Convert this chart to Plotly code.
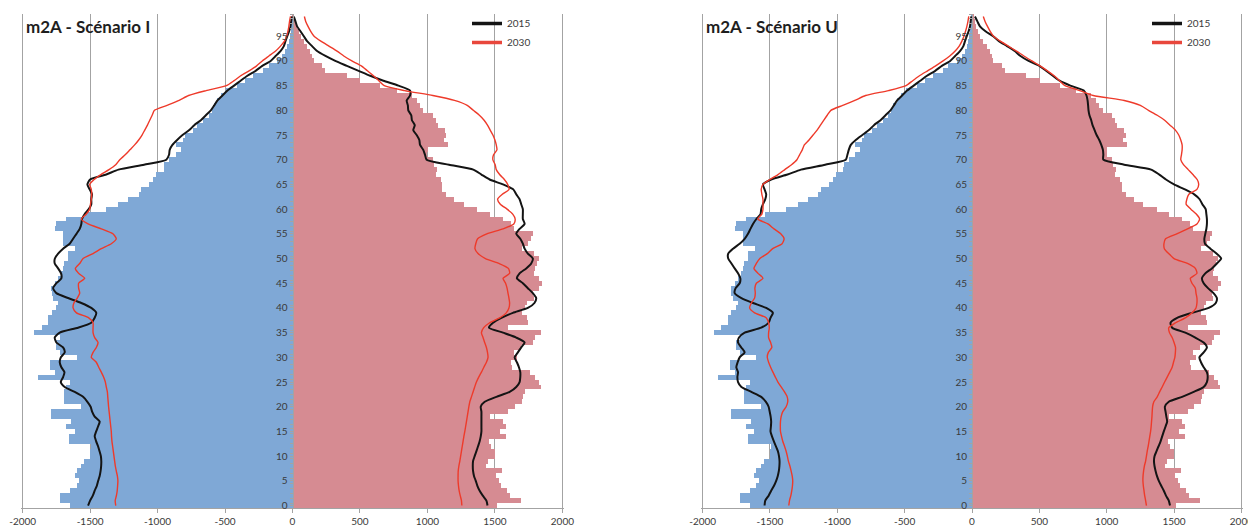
import plotly.graph_objects as go

W, H = 1248, 532

ages = list(range(100))
age_ticks = list(range(0, 100, 5))
x_ticks = [-2000, -1500, -1000, -500, 0, 500, 1000, 1500, 2000]
x_ticktext = ["-2000", "-1500", "-1000", "-500", "0", "500", "1000", "1500", "2000"]

panel_titles = ["m2A - Scénario I", "m2A - Scénario U"]
years = ["2015", "2030"]

# Population par âge (hommes à gauche, femmes à droite)
hommes = [-1650, -1720, -1725, -1650, -1600, -1580, -1615, -1600, -1565, -1545,
          -1500, -1500, -1495, -1660, -1660, -1615, -1675, -1640, -1790, -1790,
          -1565, -1690, -1690, -1690, -1675, -1650, -1885, -1760, -1795, -1795,
          -1600, -1725, -1750, -1750, -1720, -1915, -1860, -1810, -1810, -1786,
          -1750, -1740, -1775, -1786, -1790, -1760, -1740, -1715, -1700, -1690,
          -1663, -1663, -1614, -1700, -1700, -1700, -1760, -1750, -1675, -1540,
          -1380, -1294, -1220, -1140, -1120, -1060, -1035, -1010, -955, -950,
          -915, -865, -830, -865, -815, -800, -740, -705, -660, -620,
          -600, -585, -560, -530, -490, -410, -350, -290, -215, -175,
          -115, -76, -52, -39, -27, -20, -14, -9, -5, -3]

femmes = [1515, 1695, 1610, 1590, 1545, 1530, 1510, 1550, 1435, 1450,
          1500, 1500, 1470, 1455, 1580, 1540, 1580, 1560, 1460, 1600,
          1650, 1700, 1710, 1720, 1840, 1830, 1800, 1760, 1625, 1620,
          1660, 1640, 1690, 1780, 1800, 1840, 1600, 1745, 1740, 1700,
          1720, 1735, 1790, 1780, 1830, 1850, 1830, 1790, 1800, 1810,
          1830, 1790, 1700, 1745, 1770, 1780, 1640, 1620, 1560, 1460,
          1370, 1270, 1200, 1140, 1110, 1110, 1100, 1060, 1070, 1050,
          1040, 1000, 1005, 1150, 1120, 1140, 1130, 1080, 1060, 1040,
          970, 945, 920, 883, 772, 650, 502, 403, 244, 219,
          157, 145, 130, 108, 84, 60, 45, 30, 20, 10]

# Scénario I
h2015_I = [-1515, -1500, -1480, -1466, -1450, -1440, -1429, -1422, -1418, -1417,
           -1420, -1430, -1441, -1455, -1466, -1455, -1441, -1429, -1466, -1485,
           -1496, -1520, -1552, -1614, -1688, -1717, -1700, -1690, -1713, -1725,
           -1717, -1688, -1700, -1750, -1762, -1725, -1589, -1491, -1466, -1454,
           -1491, -1565, -1663, -1750, -1774, -1750, -1713, -1715, -1737, -1762,
           -1761, -1737, -1700, -1651, -1626, -1601, -1577, -1565, -1560, -1540,
           -1510, -1491, -1491, -1486, -1503, -1520, -1500, -1380, -1290, -1100,
           -935, -915, -910, -890, -855, -815, -765, -728, -679, -642,
           -605, -580, -556, -519, -482, -433, -384, -334, -273, -224,
           -162, -125, -89, -64, -52, -39, -25, -15, -10, -5]

h2030_I = [-1310, -1314, -1305, -1299, -1296, -1294, -1298, -1306, -1313, -1318,
           -1323, -1328, -1333, -1338, -1341, -1343, -1347, -1351, -1355, -1359,
           -1363, -1366, -1369, -1372, -1380, -1387, -1400, -1417, -1436, -1454,
           -1491, -1478, -1454, -1441, -1466, -1478, -1478, -1478, -1510, -1601,
           -1626, -1620, -1595, -1577, -1585, -1585, -1540, -1585, -1609, -1577,
           -1552, -1478, -1417, -1343, -1306, -1331, -1417, -1515, -1565, -1528,
           -1503, -1497, -1491, -1488, -1491, -1503, -1470, -1420, -1360, -1310,
           -1280, -1240, -1205, -1170, -1140, -1115, -1095, -1075, -1058, -1040,
           -1023, -930, -840, -770, -640, -490, -433, -384, -322, -266,
           -224, -175, -125, -89, -59, -44, -34, -27, -22, -15]

f2015_I = [1445, 1437, 1410, 1387, 1370, 1358, 1345, 1338, 1336, 1338,
           1350, 1363, 1375, 1387, 1395, 1400, 1400, 1400, 1400, 1400,
           1395, 1424, 1511, 1609, 1658, 1683, 1688, 1688, 1678, 1663,
           1646, 1670, 1695, 1720, 1658, 1560, 1456, 1486, 1548, 1633,
           1744, 1793, 1806, 1781, 1744, 1707, 1663, 1683, 1732, 1769,
           1781, 1744, 1720, 1707, 1688, 1658, 1683, 1720, 1707, 1707,
           1707, 1695, 1683, 1658, 1636, 1560, 1461, 1400, 1340, 1160,
           994, 982, 969, 945, 940, 920, 895, 906, 885, 880,
           858, 855, 846, 871, 871, 785, 674, 576, 490, 403,
           317, 244, 182, 145, 108, 84, 59, 34, 22, 10]

f2030_I = [1255, 1252, 1243, 1235, 1230, 1227, 1227, 1228, 1233, 1240,
           1246, 1252, 1258, 1264, 1270, 1277, 1283, 1289, 1295, 1301,
           1307, 1314, 1326, 1338, 1350, 1363, 1380, 1400, 1418, 1437,
           1449, 1445, 1437, 1424, 1412, 1400, 1417, 1461, 1535, 1584,
           1604, 1609, 1604, 1597, 1590, 1579, 1560, 1609, 1600, 1530,
           1430, 1375, 1352, 1358, 1372, 1440, 1560, 1640, 1650, 1632,
           1590, 1540, 1520, 1555, 1605, 1595, 1570, 1535, 1510, 1502,
           1485, 1490, 1515, 1510, 1500, 1485, 1465, 1445, 1420, 1385,
           1340, 1295, 1200, 1040, 830, 680, 640, 600, 555, 510,
           440, 380, 330, 270, 210, 160, 135, 115, 98, 88]

# Scénario U
h2015_U = [-1540, -1535, -1510, -1491, -1470, -1454, -1442, -1434, -1430, -1429,
           -1433, -1441, -1456, -1471, -1485, -1496, -1493, -1491, -1495, -1502,
           -1510, -1530, -1565, -1638, -1712, -1737, -1742, -1737, -1750, -1740,
           -1725, -1688, -1713, -1737, -1730, -1688, -1565, -1510, -1496, -1478,
           -1528, -1626, -1712, -1762, -1755, -1725, -1720, -1737, -1762, -1786,
           -1810, -1810, -1774, -1725, -1688, -1663, -1645, -1626, -1601, -1570,
           -1565, -1552, -1535, -1528, -1540, -1552, -1491, -1370, -1270, -1090,
           -937, -925, -915, -900, -863, -814, -765, -728, -679, -642,
           -605, -580, -556, -519, -482, -433, -384, -334, -273, -224,
           -162, -125, -89, -64, -52, -39, -25, -15, -10, -5]

h2030_U = [-1360, -1355, -1345, -1338, -1333, -1331, -1335, -1343, -1352, -1363,
           -1371, -1380, -1392, -1405, -1414, -1422, -1423, -1422, -1417, -1405,
           -1380, -1368, -1372, -1392, -1417, -1441, -1460, -1478, -1495, -1510,
           -1520, -1512, -1486, -1495, -1510, -1510, -1505, -1510, -1528, -1614,
           -1651, -1638, -1614, -1609, -1612, -1601, -1552, -1589, -1619, -1601,
           -1575, -1520, -1480, -1410, -1395, -1420, -1470, -1515, -1590, -1560,
           -1552, -1552, -1552, -1560, -1565, -1552, -1500, -1440, -1390, -1340,
           -1300, -1280, -1260, -1245, -1210, -1180, -1150, -1125, -1100, -1075,
           -1048, -960, -870, -790, -620, -490, -440, -390, -330, -270,
           -215, -165, -125, -95, -75, -60, -48, -38, -30, -24]

f2015_U = [1470, 1461, 1440, 1424, 1405, 1387, 1373, 1363, 1355, 1351,
           1355, 1370, 1385, 1400, 1412, 1424, 1437, 1449, 1443, 1437,
           1432, 1461, 1560, 1646, 1720, 1744, 1750, 1744, 1720, 1700,
           1688, 1720, 1744, 1720, 1658, 1584, 1486, 1474, 1523, 1633,
           1757, 1810, 1818, 1793, 1752, 1720, 1707, 1732, 1781, 1818,
           1850, 1815, 1770, 1730, 1725, 1732, 1740, 1744, 1744, 1740,
           1735, 1710, 1690, 1650, 1580, 1500, 1440, 1390, 1330, 1130,
           975, 975, 972, 960, 945, 925, 910, 895, 885, 872,
           865, 862, 858, 850, 830, 730, 650, 600, 550, 500,
           420, 360, 317, 260, 200, 157, 100, 59, 40, 22]

f2030_U = [1295, 1289, 1282, 1277, 1272, 1269, 1270, 1274, 1280, 1289,
           1295, 1301, 1308, 1314, 1320, 1326, 1330, 1333, 1336, 1338,
           1341, 1350, 1375, 1393, 1412, 1430, 1449, 1468, 1486, 1496,
           1506, 1510, 1511, 1500, 1486, 1466, 1461, 1511, 1584, 1633,
           1663, 1670, 1670, 1663, 1658, 1633, 1621, 1670, 1658, 1600,
           1500, 1460, 1428, 1425, 1437, 1520, 1600, 1670, 1690, 1665,
           1625, 1590, 1595, 1610, 1670, 1683, 1672, 1640, 1605, 1570,
           1550, 1555, 1560, 1560, 1550, 1535, 1510, 1470, 1430, 1375,
           1310, 1250, 1130, 900, 800, 690, 650, 610, 560, 505,
           445, 385, 330, 270, 210, 160, 135, 115, 97, 84]

BLUE = "#7FA8D6"
PINK = "#D68B92"
BLACK = "#141414"
RED = "#EE3A2A"
GRID = "#A3A3A3"
TXT = "#3A3A3A"
FONT = "Lato"

panels = [
    dict(title=panel_titles[0], l2015=(h2015_I, f2015_I), l2030=(h2030_I, f2030_I),
         px=(21, 564), xa="x", ya="y", leg="legend"),
    dict(title=panel_titles[1], l2015=(h2015_U, f2015_U), l2030=(h2030_U, f2030_U),
         px=(701, 1243), xa="x2", ya="y2", leg="legend2"),
]

fig = go.Figure()


def both_sides(left, right):
    xs = list(left) + [None] + list(right)
    ys = ages + [None] + ages
    return xs, ys


for p in panels:
    for vals, col in ((hommes, BLUE), (femmes, PINK)):
        fig.add_trace(go.Bar(
            y=ages, x=vals, orientation="h", width=1,
            marker=dict(color=col, line=dict(width=0)),
            xaxis=p["xa"], yaxis=p["ya"], showlegend=False, hoverinfo="skip"))
    for yr, (lm, lw), col, w in ((years[0], p["l2015"], BLACK, 2.0),
                                 (years[1], p["l2030"], RED, 1.4)):
        xs, ys = both_sides(lm, lw)
        fig.add_trace(go.Scatter(
            x=xs, y=ys, mode="lines", name=yr, showlegend=False,
            line=dict(color=col, width=w, shape="spline", smoothing=0.6),
            xaxis=p["xa"], yaxis=p["ya"], connectgaps=False))
    # legend keys, drawn with a heavier stroke than the curves
    for yr, col in ((years[0], BLACK), (years[1], "#E8473C")):
        fig.add_trace(go.Scatter(
            x=[None], y=[None], mode="lines", name=yr,
            line=dict(color=col, width=3.5),
            xaxis=p["xa"], yaxis=p["ya"], legend=p["leg"]))

layout = dict(
    width=W, height=H, autosize=False,
    margin=dict(l=0, r=0, t=0, b=0),
    paper_bgcolor="white", plot_bgcolor="white",
    barmode="overlay", bargap=0,
    font=dict(family=FONT, color=TXT),
    annotations=[],
)

y_dom = [1 - 508 / H, 1 - 14 / H]
for i, p in enumerate(panels):
    sfx = "" if i == 0 else "2"
    x0, x1 = p["px"]
    layout["xaxis" + sfx] = dict(
        domain=[x0 / W, x1 / W], range=[-2012, 2012], anchor=p["ya"],
        tickmode="array", tickvals=x_ticks, ticktext=x_ticktext,
        showgrid=True, gridcolor=GRID, gridwidth=1, zeroline=False,
        showline=True, linecolor=GRID, linewidth=1,
        ticks="outside", ticklen=4, tickcolor=GRID,
        ticklabeloverflow="allow",
        tickfont=dict(size=10, color=TXT, family=FONT), automargin=False,
    )
    layout["yaxis" + sfx] = dict(
        domain=y_dom, range=[-0.5, 99.5], anchor="free",
        position=(x0 + x1) / 2 / W,
        tickmode="array", tickvals=age_ticks, ticktext=[str(a) for a in age_ticks],
        showgrid=False, zeroline=False,
        showline=True, linecolor=GRID, linewidth=1,
        ticks="outside", ticklen=3, tickcolor=GRID,
        minor=dict(ticks="outside", ticklen=3, tickcolor=GRID, tick0=0.5, dtick=1),
        tickfont=dict(size=10, color=TXT, family=FONT), automargin=False,
    )
    layout[p["leg"]] = dict(
        x=(x0 + 446) / W, y=1 - 9 / H, xanchor="left", yanchor="top",
        bgcolor="rgba(0,0,0,0)", font=dict(size=10, color=TXT, family=FONT),
        tracegroupgap=0, itemwidth=30,
    )
    layout["annotations"].append(dict(
        text="<b>" + p["title"] + "</b>", x=(x0 + 3) / W, y=1 - 27 / H,
        xref="paper", yref="paper", xanchor="left", yanchor="middle",
        showarrow=False, font=dict(size=17, color="#1E1E1E", family=FONT)))

fig.update_layout(**layout)
fig.write_html("out.html")
